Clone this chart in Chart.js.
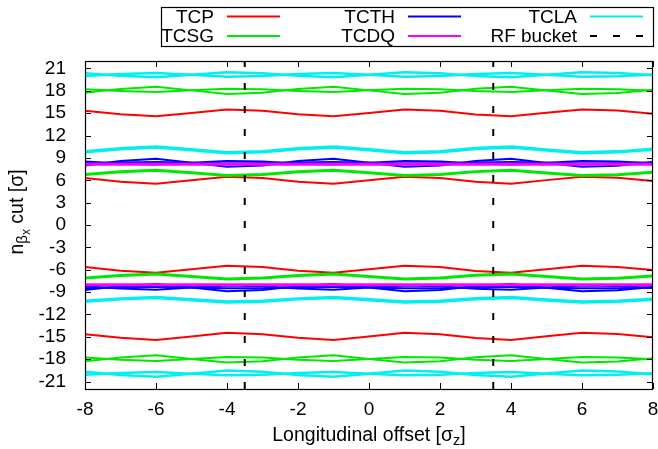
<!DOCTYPE html>
<html>
<head>
<meta charset="utf-8">
<script src="https://cdn.jsdelivr.net/npm/chart.js@4.4.1/dist/chart.umd.min.js"></script>
<style>
  html, body { margin: 0; padding: 0; background: #fff; }
  #wrap { width: 658px; height: 449px; }
</style>
</head>
<body>
<div id="wrap"><canvas id="chart" width="658" height="449"></canvas></div>
<script>
// longitudinal offset [sigma_z]
const xOffset = [-8, -7, -6, -5, -4, -3, -2, -1, 0, 1, 2, 3, 4, 5, 6, 7, 8];
const xTicks  = [-8, -6, -4, -2, 0, 2, 4, 6, 8];
const yTicks  = [-21, -18, -15, -12, -9, -6, -3, 0, 3, 6, 9, 12, 15, 18, 21];
const bucketX = [-3.5, 3.5];

// TCP
const tcpA = [15.32, 14.85, 14.58, 15.03, 15.48, 15.32, 14.85, 14.58, 15.03, 15.48, 15.32, 14.83, 14.58, 15.05, 15.48, 15.35, 14.94];
const tcpB = [6.31, 5.81, 5.53, 6.0, 6.47, 6.31, 5.81, 5.53, 6.0, 6.47, 6.31, 5.79, 5.53, 6.02, 6.47, 6.33, 5.91];
const tcpC = [-5.64, -6.14, -6.42, -5.95, -5.48, -5.64, -6.14, -6.42, -5.95, -5.48, -5.64, -6.16, -6.42, -5.93, -5.48, -5.62, -6.04];
const tcpD = [-14.64, -15.14, -15.43, -14.95, -14.47, -14.64, -15.14, -15.43, -14.95, -14.47, -14.64, -15.17, -15.43, -14.93, -14.47, -14.61, -15.05];

// TCSG
const tcsgA = [18.2, 17.97, 17.84, 18.06, 18.28, 18.2, 17.97, 17.84, 18.06, 18.28, 18.2, 17.96, 17.84, 18.07, 18.28, 18.21, 18.02];
const tcsgB = [17.73, 18.26, 18.56, 18.06, 17.56, 17.73, 18.26, 18.56, 18.06, 17.56, 17.73, 18.29, 18.56, 18.03, 17.56, 17.71, 18.16];
const tcsgC = [6.77, 7.14, 7.35, 7.0, 6.65, 6.77, 7.14, 7.35, 7.0, 6.65, 6.77, 7.16, 7.35, 6.98, 6.65, 6.75, 7.07];
const tcsgD = [-7.11, -6.77, -6.57, -6.9, -7.23, -7.11, -6.77, -6.57, -6.9, -7.23, -7.11, -6.75, -6.57, -6.92, -7.23, -7.13, -6.83];
const tcsgE = [-17.79, -18.08, -18.24, -17.97, -17.7, -17.79, -18.08, -18.24, -17.97, -17.7, -17.79, -18.09, -18.24, -17.96, -17.7, -17.78, -18.02];
const tcsgF = [-18.29, -17.77, -17.48, -17.97, -18.46, -18.29, -17.77, -17.48, -17.97, -18.46, -18.29, -17.75, -17.48, -17.99, -18.46, -18.31, -17.87];

// TCTH
const tcthA = [8.51, 8.25, 8.1, 8.35, 8.6, 8.51, 8.25, 8.1, 8.35, 8.6, 8.51, 8.24, 8.1, 8.36, 8.6, 8.53, 8.3];
const tcthB = [7.99, 8.57, 8.9, 8.35, 7.8, 7.99, 8.57, 8.9, 8.35, 7.8, 7.99, 8.6, 8.9, 8.32, 7.8, 7.96, 8.46];
const tcthC = [8.28, 8.39, 8.45, 8.35, 8.25, 8.28, 8.39, 8.45, 8.35, 8.25, 8.28, 8.4, 8.45, 8.34, 8.25, 8.28, 8.37];
const tcthD = [-8.2, -8.52, -8.7, -8.4, -8.1, -8.2, -8.52, -8.7, -8.4, -8.1, -8.2, -8.54, -8.7, -8.38, -8.1, -8.19, -8.46];
const tcthE = [-8.73, -8.2, -7.9, -8.4, -8.9, -8.73, -8.2, -7.9, -8.4, -8.9, -8.73, -8.17, -7.9, -8.43, -8.9, -8.75, -8.3];
const tcthF = [-8.47, -8.36, -8.3, -8.4, -8.5, -8.47, -8.36, -8.3, -8.4, -8.5, -8.47, -8.35, -8.3, -8.41, -8.5, -8.47, -8.38];

// TCDQ
const tcdqA = [8.15, 8.15, 8.15, 8.15, 8.15, 8.15, 8.15, 8.15, 8.15, 8.15, 8.15, 8.15, 8.15, 8.15, 8.15, 8.15, 8.15];
const tcdqB = [-8.0, -8.0, -8.0, -8.0, -8.0, -8.0, -8.0, -8.0, -8.0, -8.0, -8.0, -8.0, -8.0, -8.0, -8.0, -8.0, -8.0];

// TCLA
const tclaA = [20.36, 20.02, 19.82, 20.15, 20.48, 20.36, 20.02, 19.82, 20.15, 20.48, 20.36, 20.0, 19.82, 20.17, 20.48, 20.38, 20.08];
const tclaB = [19.99, 20.25, 20.4, 20.15, 19.9, 19.99, 20.25, 20.4, 20.15, 19.9, 19.99, 20.26, 20.4, 20.14, 19.9, 19.97, 20.2];
const tclaC = [9.83, 10.23, 10.46, 10.08, 9.7, 9.83, 10.23, 10.46, 10.08, 9.7, 9.83, 10.25, 10.46, 10.06, 9.7, 9.81, 10.16];
const tclaD = [-10.23, -9.91, -9.73, -10.03, -10.33, -10.23, -9.91, -9.73, -10.03, -10.33, -10.23, -9.89, -9.73, -10.05, -10.33, -10.24, -9.97];
const tclaE = [-19.67, -20.11, -20.36, -19.94, -19.52, -19.67, -20.11, -20.36, -19.94, -19.52, -19.67, -20.13, -20.36, -19.92, -19.52, -19.65, -20.02];
const tclaF = [-20.08, -19.85, -19.72, -19.94, -20.16, -20.08, -19.85, -19.72, -19.94, -20.16, -20.08, -19.84, -19.72, -19.95, -20.16, -20.09, -19.9];

const FONT = '"Liberation Sans", Arial, Helvetica, sans-serif';
const colors = { TCP: '#ff0000', TCSG: '#00e800', TCTH: '#0000ff', TCDQ: '#ff00ff', TCLA: '#00f0f0', 'RF bucket': '#000' };

// first in list is drawn on top
const series = [
  ['TCDQ', tcdqA, 3], ['TCDQ', tcdqB, 3],
  ['TCTH', tcthA, 2], ['TCTH', tcthB, 2], ['TCTH', tcthC, 2],
  ['TCTH', tcthD, 2], ['TCTH', tcthE, 2], ['TCTH', tcthF, 2],
  ['TCLA', tclaA, 2.5], ['TCLA', tclaB, 2.5], ['TCLA', tclaC, 3.5],
  ['TCLA', tclaD, 3.5], ['TCLA', tclaE, 2.5], ['TCLA', tclaF, 2.5],
  ['TCSG', tcsgA, 2], ['TCSG', tcsgB, 2], ['TCSG', tcsgC, 3],
  ['TCSG', tcsgD, 3], ['TCSG', tcsgE, 2], ['TCSG', tcsgF, 2],
  ['TCP', tcpA, 2], ['TCP', tcpB, 2], ['TCP', tcpC, 2], ['TCP', tcpD, 2]
];

const datasets = bucketX.map((bx, i) => ({
  label: 'RF bucket',
  data: [{ x: bx, y: -22 }, { x: bx, y: 22 }],
  borderColor: '#000', borderWidth: 2, borderDash: [7, 16],
  pointRadius: 0, order: i
}));
series.forEach(([fam, ys, w], i) => datasets.push({
  label: fam,
  data: xOffset.map((x, j) => ({ x, y: ys[j] })),
  borderColor: colors[fam], borderWidth: w,
  pointRadius: 0, tension: 0, order: i + 2
}));

// draw text made of pieces (sub/superscripts)
function richText(ctx, parts, cx, base) {
  let w = 0;
  parts.forEach(p => { ctx.font = p[1] + 'px ' + FONT; w += ctx.measureText(p[0]).width; });
  let x = cx - w / 2;
  parts.forEach(p => {
    ctx.font = p[1] + 'px ' + FONT;
    ctx.fillText(p[0], x, base + p[2]);
    x += ctx.measureText(p[0]).width;
  });
}

const gnuFrame = {
  id: 'gnuFrame',
  afterDatasetsDraw(chart) {
    const { ctx, chartArea: a, scales: { x, y } } = chart;
    ctx.save();
    ctx.strokeStyle = '#000';
    ctx.lineWidth = 1;
    ctx.beginPath();
    y.ticks.forEach(t => {
      const py = Math.round(y.getPixelForValue(t.value)) + 0.5;
      ctx.moveTo(a.left, py); ctx.lineTo(a.left + 6, py);
      ctx.moveTo(a.right, py); ctx.lineTo(a.right - 6, py);
    });
    x.ticks.forEach(t => {
      const px = Math.round(x.getPixelForValue(t.value)) + 0.5;
      ctx.moveTo(px, a.bottom); ctx.lineTo(px, a.bottom - 6);
      ctx.moveTo(px, a.top); ctx.lineTo(px, a.top + 6);
    });
    ctx.stroke();
    ctx.lineWidth = 1.2;
    ctx.strokeRect(Math.round(a.left) + 0.5, Math.round(a.top) + 0.5, Math.round(a.width) - 1, Math.round(a.height));
    ctx.restore();
  },
  afterDraw(chart) {
    const { ctx, chartArea: a } = chart;
    ctx.save();
    ctx.fillStyle = '#000';
    ctx.textBaseline = 'alphabetic';

    // axis titles
    richText(ctx, [['Longitudinal offset [σ', 19.5, 0], ['z', 14.5, 4], [']', 19.5, 0]], (a.left + a.right) / 2, 441);
    ctx.translate(23, 212);
    ctx.rotate(-Math.PI / 2);
    richText(ctx, [['n', 19.5, 0], ['β', 15, 4], ['x', 12, 7], [' cut [σ]', 19.5, 0]], 0, 0);
    ctx.setTransform(1, 0, 0, 1, 0, 0);

    // key box
    ctx.strokeStyle = '#000';
    ctx.lineWidth = 1.2;
    ctx.strokeRect(161.5, 7.5, 492, 39);
    const cols = [214, 395, 577], rows = [16.5, 36];
    const keys = [['TCP', 0, 0], ['TCTH', 1, 0], ['TCLA', 2, 0], ['TCSG', 0, 1], ['TCDQ', 1, 1], ['RF bucket', 2, 1]];
    ctx.font = '19px ' + FONT;
    ctx.textAlign = 'right';
    ctx.textBaseline = 'middle';
    keys.forEach(([name, c, r]) => {
      const tx = cols[c], ty = rows[r];
      ctx.fillText(name, tx, ty + 1);
      ctx.beginPath();
      ctx.strokeStyle = colors[name];
      ctx.lineWidth = 2;
      ctx.setLineDash(name === 'RF bucket' ? [7, 16] : []);
      ctx.moveTo(tx + 13, ty); ctx.lineTo(tx + 66, ty);
      ctx.stroke();
    });
    ctx.restore();
  }
};

new Chart(document.getElementById('chart'), {
  type: 'line',
  data: { datasets },
  options: {
    responsive: false,
    animation: false,
    devicePixelRatio: 1,
    layout: { padding: { top: 61, right: 5, left: 0, bottom: 0 } },
    plugins: { legend: { display: false }, tooltip: { enabled: false } },
    scales: {
      x: {
        type: 'linear', min: -8, max: 8,
        grid: { display: false }, border: { display: false },
        ticks: { color: '#000', font: { size: 19, family: FONT }, padding: 1, maxRotation: 0, autoSkip: false },
        afterBuildTicks: s => { s.ticks = xTicks.map(v => ({ value: v })); },
        afterFit: s => { s.height = 60; s.paddingLeft = 0; s.paddingRight = 0; }
      },
      y: {
        type: 'linear', min: -22, max: 22,
        grid: { display: false }, border: { display: false },
        ticks: { color: '#000', font: { size: 19, family: FONT }, padding: 11, autoSkip: false },
        afterBuildTicks: s => { s.ticks = yTicks.map(v => ({ value: v })); },
        afterFit: s => { s.width = 85; }
      }
    }
  },
  plugins: [gnuFrame]
});
</script>
</body>
</html>
